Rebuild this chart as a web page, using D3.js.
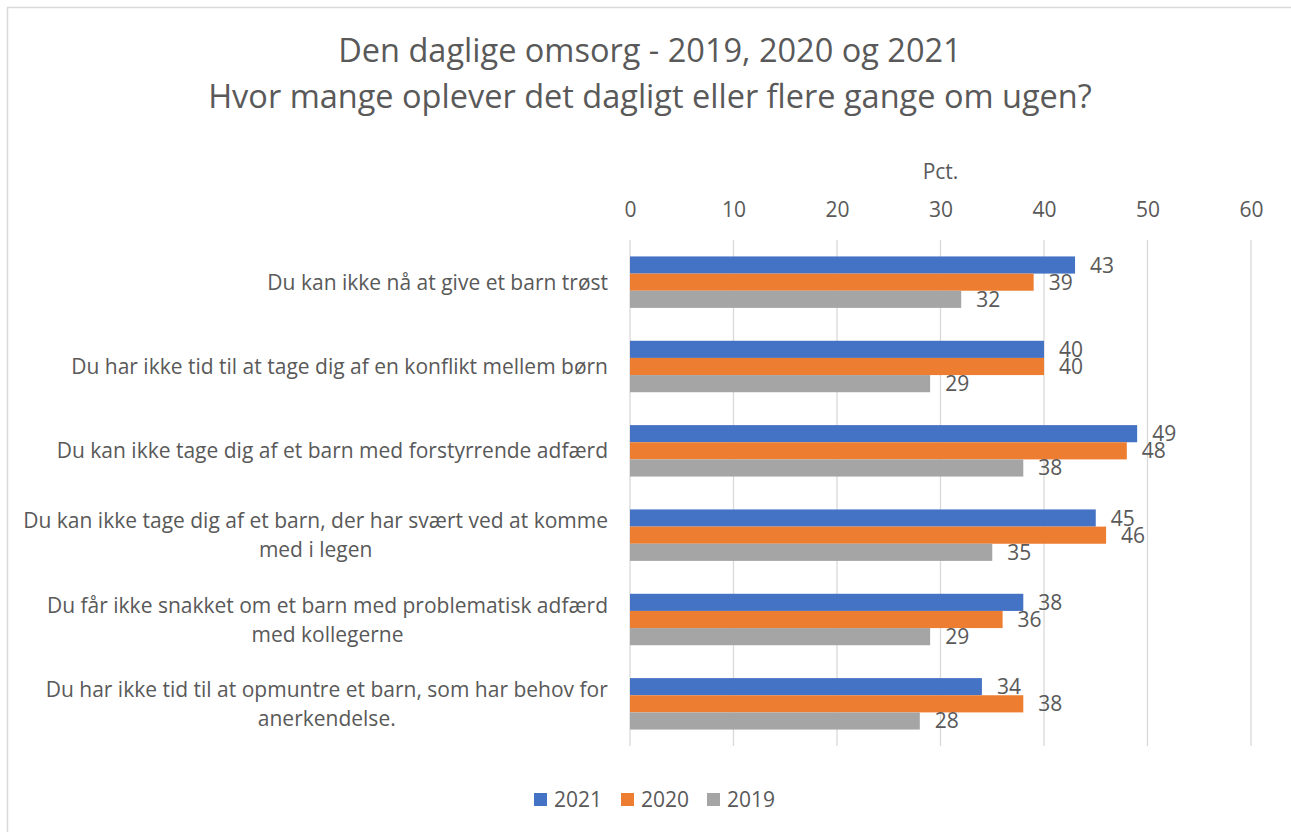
<!DOCTYPE html>
<html>
<head>
<meta charset="utf-8">
<script src="https://cdn.jsdelivr.net/npm/d3@7"></script>
<style>
  body { margin: 0; background: #fff; }
  svg text { font-family: "Open Sans", "Noto Sans", sans-serif; fill: #595959; }
</style>
</head>
<body>
<div id="chart"></div>
<script>
// data
const categories = [
    ["Du kan ikke nå at give et barn trøst"],
    ["Du har ikke tid til at tage dig af en konflikt mellem børn"],
    ["Du kan ikke tage dig af et barn med forstyrrende adfærd"],
    ["Du kan ikke tage dig af et barn, der har svært ved at komme", "med i legen"],
    ["Du får ikke snakket om et barn med problematisk adfærd", "med kollegerne"],
    ["Du har ikke tid til at opmuntre et barn, som har behov for", "anerkendelse."]
];
const seriesNames = ["2021", "2020", "2019"];
const values2021 = [43, 40, 49, 45, 38, 34];
const values2020 = [39, 40, 48, 46, 36, 38];
const values2019 = [32, 29, 38, 35, 29, 28];
const xTicks = [0, 10, 20, 30, 40, 50, 60];
const colors = ["#4472c4", "#ed7d31", "#a5a5a5"];
const titleLines = ["Den daglige omsorg - 2019, 2020 og 2021", "Hvor mange oplever det dagligt eller flere gange om ugen?"];

const width = 1291, height = 832;
const plotLeft = 630, plotRight = 1251, plotTop = 240, plotBottom = 746;
const fs = '21px';

const svg = d3.select('#chart').append('svg')
    .attr('width', width)
    .attr('height', height);

// chart border
svg.append('rect')
    .attr('x', 7.5).attr('y', 7.5)
    .attr('width', width + 10).attr('height', height + 10)
    .attr('fill', 'none')
    .attr('stroke', '#d9d9d9')
    .attr('stroke-width', 1.5);

// title
svg.append('g').selectAll('text')
    .data(titleLines)
    .join('text')
    .attr('x', 650)
    .attr('y', (d, i) => 62 + i * 46)
    .attr('text-anchor', 'middle')
    .style('font-size', '32.5px')
    .text(d => d);

const x = d3.scaleLinear().domain([0, 60]).range([plotLeft, plotRight]);
const y = d3.scaleBand().domain(d3.range(categories.length)).range([plotTop, plotBottom]).paddingInner(0.39).paddingOuter(0.195);
const ySub = d3.scaleBand().domain(d3.range(seriesNames.length)).range([0, y.bandwidth()]);

// gridlines
svg.append('g').selectAll('line')
    .data(xTicks)
    .join('line')
    .attr('x1', d => x(d)).attr('x2', d => x(d))
    .attr('y1', plotTop).attr('y2', plotBottom)
    .attr('stroke', '#d9d9d9')
    .attr('stroke-width', 1.3);

// top axis
const xAxis = d3.axisTop(x).tickValues(xTicks).tickSize(0).tickPadding(0);
const axisG = svg.append('g')
    .attr('transform', 'translate(0,' + 217 + ')')
    .call(xAxis);
axisG.select('.domain').remove();
axisG.selectAll('text')
    .attr('dy', 0)
    .style('font-size', fs)
    .style('fill', '#595959')
    .style('font-family', '"Open Sans", "Noto Sans", sans-serif');

svg.append('text')
    .attr('x', (plotLeft + plotRight) / 2).attr('y', 179)
    .attr('text-anchor', 'middle')
    .style('font-size', fs)
    .text('Pct.');

// category labels
const catG = svg.append('g');
categories.forEach((lines, i) => {
    const cy = y(i) + y.bandwidth() / 2;
    const t = catG.append('text')
        .attr('text-anchor', 'middle')
        .style('font-size', fs);
    lines.forEach((ln, j) => {
        t.append('tspan').attr('x', 0).attr('y', cy + 7.5 + (j - (lines.length - 1) / 2) * 29).text(ln);
    });
    const w = t.node().getBBox().width;
    t.attr('transform', 'translate(' + (608 - w / 2) + ',0)');
});

// bars
const allSeries = [values2021, values2020, values2019];
allSeries.forEach((vals, s) => {
    const g = svg.append('g');
    g.selectAll('rect')
        .data(vals)
        .join('rect')
        .attr('x', x(0))
        .attr('y', (d, i) => y(i) + ySub(s))
        .attr('width', d => x(d) - x(0))
        .attr('height', ySub.bandwidth())
        .attr('fill', colors[s]);
    g.selectAll('text')
        .data(vals)
        .join('text')
        .attr('x', d => x(d) + 15)
        .attr('y', (d, i) => y(i) + ySub(s) + ySub.bandwidth() / 2 + 7.5)
        .style('font-size', fs)
        .text(d => d);
});

// legend
const legend = svg.append('g').attr('transform', 'translate(534,793)');
const legX = [0, 87, 173];
seriesNames.forEach((name, i) => {
    legend.append('rect')
        .attr('x', legX[i]).attr('y', 0)
        .attr('width', 13).attr('height', 13)
        .attr('fill', colors[i]);
    legend.append('text')
        .attr('x', legX[i] + 20).attr('y', 14)
        .style('font-size', fs)
        .text(name);
});
</script>
</body>
</html>
